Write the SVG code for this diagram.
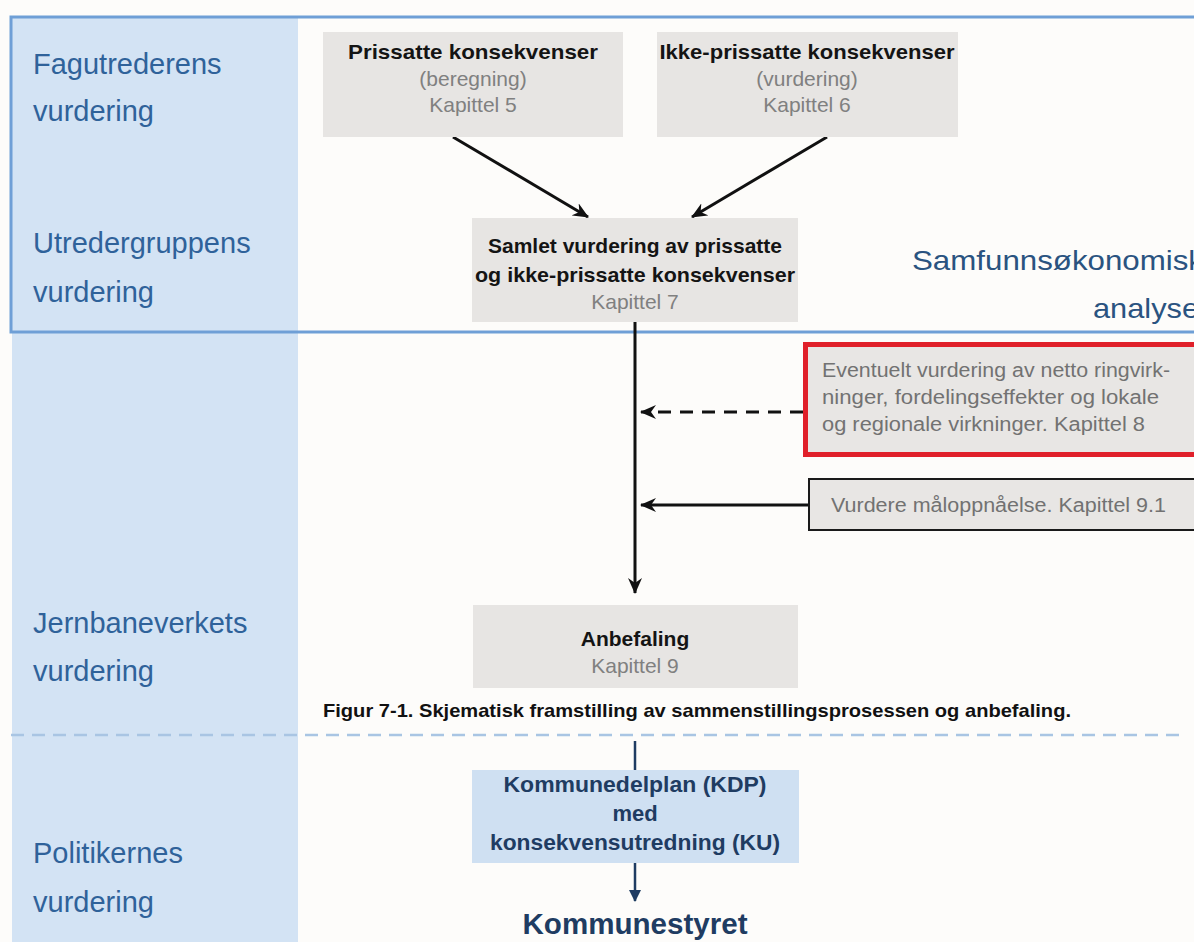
<svg xmlns="http://www.w3.org/2000/svg" width="1194" height="942" viewBox="0 0 1194 942">
  <style>
    .lane { font-family: "Liberation Sans", Arial, sans-serif; font-size: 29px; fill: #2f629a; }
    .hd { font-family: "Liberation Sans", Arial, sans-serif; font-size: 21px; font-weight: bold; fill: #141414; text-anchor: middle; }
    .sub { font-family: "Liberation Sans", Arial, sans-serif; font-size: 21px; fill: #808080; text-anchor: middle; }
    .note { font-family: "Liberation Sans", Arial, sans-serif; font-size: 20px; fill: #727272; }
    .blue { font-family: "Liberation Sans", Arial, sans-serif; font-weight: bold; fill: #1f3c62; text-anchor: middle; }
    .grey { fill: #e7e5e3; }
    .wire { stroke: #111; stroke-width: 3; fill: none; }
  </style>
  <defs>
    <marker id="ah" viewBox="0 0 16 14" refX="15" refY="7" markerWidth="16" markerHeight="14" markerUnits="userSpaceOnUse" orient="auto">
      <path d="M0,0 L16,7 L0,14 L5,7 Z" fill="#111"/>
    </marker>
    <marker id="ahb" viewBox="0 0 12 12" refX="11" refY="6" markerWidth="12" markerHeight="12" markerUnits="userSpaceOnUse" orient="auto">
      <path d="M0,0 L12,6 L0,12 Z" fill="#1f3c62"/>
    </marker>
  </defs>

  <!-- background and swim-lane column -->
  <rect x="0" y="0" width="1194" height="942" fill="#fdfcfa"/>
  <rect x="12" y="17" width="286" height="925" fill="#d3e3f4"/>
  <rect id="frame" x="11" y="17" width="1200" height="315" fill="none" stroke="#6f9fd6" stroke-width="3"/>
  <line x1="11" y1="735" x2="1182" y2="735" stroke="#a9c5e3" stroke-width="2.5" stroke-dasharray="13,8"/>

  <!-- lane labels -->
  <g id="lanes">
    <text class="lane" x="33" y="74">Fagutrederens</text>
    <text class="lane" x="33" y="121">vurdering</text>
    <text class="lane" x="33" y="253">Utredergruppens</text>
    <text class="lane" x="33" y="302">vurdering</text>
    <text class="lane" x="33" y="633">Jernbaneverkets</text>
    <text class="lane" x="33" y="681">vurdering</text>
    <text class="lane" x="33" y="863">Politikernes</text>
    <text class="lane" x="33" y="912">vurdering</text>
  </g>

  <g id="analysis-title">
    <text x="912" y="270" font-family="Liberation Sans, Arial, sans-serif" font-size="28" fill="#2a5380" textLength="292" lengthAdjust="spacingAndGlyphs">Samfunnsøkonomisk</text>
    <text x="1093" y="318" font-family="Liberation Sans, Arial, sans-serif" font-size="28" fill="#2a5380" textLength="106" lengthAdjust="spacingAndGlyphs">analyse</text>
  </g>

  <!-- connectors -->
  <g id="connectors">
    <line class="wire" x1="453" y1="137" x2="588" y2="217" marker-end="url(#ah)"/>
    <line class="wire" x1="827" y1="137" x2="692" y2="217" marker-end="url(#ah)"/>
    <line class="wire" x1="635" y1="322" x2="635" y2="593" marker-end="url(#ah)"/>
    <line class="wire" x1="803" y1="412" x2="641" y2="412" stroke-dasharray="13,9" marker-end="url(#ah)"/>
    <line class="wire" x1="808" y1="505" x2="641" y2="505" marker-end="url(#ah)"/>
    <line x1="635" y1="741" x2="635" y2="770" stroke="#1f3c62" stroke-width="2.5"/>
    <line x1="635" y1="863" x2="635" y2="901" stroke="#1f3c62" stroke-width="2.5" marker-end="url(#ahb)"/>
  </g>

  <g id="prissatte">
    <rect class="grey" x="323" y="32" width="300" height="105"/>
    <text class="hd" x="473" y="59" textLength="250" lengthAdjust="spacingAndGlyphs">Prissatte konsekvenser</text>
    <text class="sub" x="473" y="86">(beregning)</text>
    <text class="sub" x="473" y="112">Kapittel 5</text>
  </g>

  <g id="ikke-prissatte">
    <rect class="grey" x="657" y="32" width="301" height="105"/>
    <text class="hd" x="807" y="59" textLength="295" lengthAdjust="spacingAndGlyphs">Ikke-prissatte konsekvenser</text>
    <text class="sub" x="807" y="86">(vurdering)</text>
    <text class="sub" x="807" y="112">Kapittel 6</text>
  </g>

  <g id="samlet">
    <rect class="grey" x="472" y="218" width="326" height="104"/>
    <text class="hd" x="635" y="253" textLength="294" lengthAdjust="spacingAndGlyphs">Samlet vurdering av prissatte</text>
    <text class="hd" x="635" y="282" textLength="320" lengthAdjust="spacingAndGlyphs">og ikke-prissatte konsekvenser</text>
    <text class="sub" x="635" y="309">Kapittel 7</text>
  </g>

  <g id="ringvirkninger">
    <rect x="805.5" y="344.5" width="400" height="110" fill="#e8e6e4" stroke="#e0202a" stroke-width="5"/>
    <text class="note" x="822" y="377" textLength="348" lengthAdjust="spacingAndGlyphs">Eventuelt vurdering av netto ringvirk-</text>
    <text class="note" x="822" y="404" textLength="337" lengthAdjust="spacingAndGlyphs">ninger, fordelingseffekter og lokale</text>
    <text class="note" x="822" y="431" textLength="323" lengthAdjust="spacingAndGlyphs">og regionale virkninger. Kapittel 8</text>
  </g>

  <g id="maloppnaelse">
    <rect x="809" y="479" width="400" height="51" fill="#e8e6e4" stroke="#1a1a1a" stroke-width="2"/>
    <text class="note" x="831" y="512" textLength="335" lengthAdjust="spacingAndGlyphs">Vurdere måloppnåelse. Kapittel 9.1</text>
  </g>

  <g id="anbefaling">
    <rect class="grey" x="473" y="605" width="325" height="83"/>
    <text class="hd" x="635" y="646" font-size="22">Anbefaling</text>
    <text class="sub" x="635" y="673">Kapittel 9</text>
  </g>

  <text id="caption" x="323" y="717" font-family="Liberation Sans, Arial, sans-serif" font-size="19" font-weight="bold" fill="#111" textLength="748" lengthAdjust="spacingAndGlyphs">Figur 7-1. Skjematisk framstilling av sammenstillingsprosessen og anbefaling.</text>

  <g id="kdp">
    <rect x="472" y="770" width="327" height="93" fill="#cfe0f2"/>
    <text class="blue" x="635" y="792" font-size="22" textLength="263" lengthAdjust="spacingAndGlyphs">Kommunedelplan (KDP)</text>
    <text class="blue" x="635" y="821" font-size="22">med</text>
    <text class="blue" x="635" y="850" font-size="22" textLength="290" lengthAdjust="spacingAndGlyphs">konsekvensutredning (KU)</text>
  </g>

  <g id="kommunestyret">
    <text class="blue" x="635" y="934" font-size="29" textLength="225" lengthAdjust="spacingAndGlyphs">Kommunestyret</text>
  </g>
</svg>
